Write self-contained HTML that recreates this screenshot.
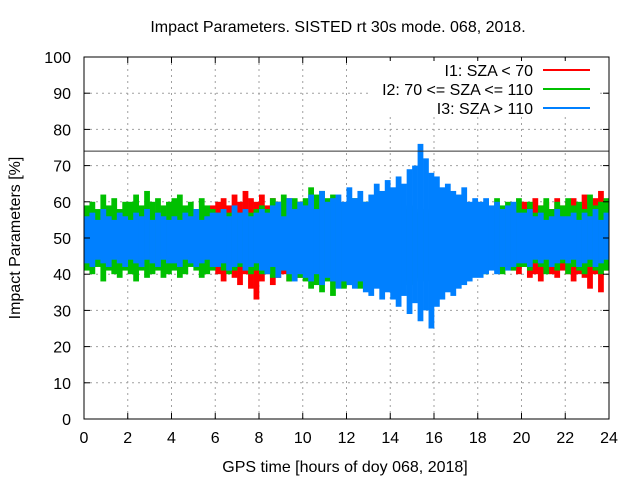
<!DOCTYPE html>
<html><head><meta charset="utf-8"><style>
body{margin:0;background:#fff}
svg{display:block;font-family:"Liberation Sans",sans-serif}
</style></head><body>
<svg id="chart" width="640" height="480" viewBox="0 0 640 480">
<rect width="640" height="480" fill="#fff"/>
<g id="grid"></g>
<g id="series"></g>
<g id="axes"></g>
<text x="338" y="32" font-size="16" text-anchor="middle">Impact Parameters. SISTED rt 30s mode. 068, 2018.</text>
<text x="345" y="472" font-size="16" text-anchor="middle">GPS time [hours of doy 068, 2018]</text>
<text transform="translate(20,238) rotate(-90)" font-size="16" text-anchor="middle">Impact Parameters [%]</text>
<g id="legend"></g>
</svg>
<script>
const xTicks=[0,2,4,6,8,10,12,14,16,18,20,22,24];
const yTicks=[0,10,20,30,40,50,60,70,80,90,100];
const refLine=74;
const binHours=0.25;
const blueHi=[56,57,55,58,56,55,57,56,55,57,56,58,55,57,56,55,56,55,57,56,58,55,56,57,57,58,56,59,57,58,56,57,58,57,59,60,56,61,58,60,59,62,58,63,60,61,62,60,64,61,63,60,62,65,63,66,64,67,65,69,70,76,72,68,67,64,65,63,62,64,60,61,60,61,59,60,58,59,60,57,57,58,56,57,55,56,58,56,56,57,55,57,56,58,55,57];
const blueLo=[43,42,44,43,42,44,43,42,44,43,42,44,43,42,44,43,43,42,44,43,42,43,44,42,42,43,41,42,43,41,42,43,41,40,42,39,41,40,38,40,39,38,40,37,39,38,36,38,37,36,38,35,34,36,33,35,33,31,34,29,32,27,30,25,31,33,35,34,36,37,38,39,39,40,41,40,42,41,42,43,43,42,44,43,44,42,43,44,43,44,42,43,44,42,43,44];
const greenHi=[59,60,58,62,59,61,58,60,60,62,59,63,60,61,59,60,61,62,59,60,58,61,59,58,57,58,57,58,57,56,57,58,59,58,61,60,62,58,61,60,61,64,62,63,61,62,60,59,60,61,59,60,58,60,59,60,59,61,58,59,58,57,58,57,58,57,58,59,57,58,59,60,59,60,58,61,59,60,58,61,58,60,57,59,61,58,60,59,61,59,60,58,62,59,60,61];
const greenLo=[41,40,42,38,41,40,39,41,40,38,41,39,40,41,39,40,41,39,40,42,41,39,40,41,42,41,40,41,42,41,40,41,40,41,39,40,41,38,40,39,38,36,37,35,38,34,37,36,37,38,36,39,37,38,40,38,40,36,38,37,38,39,38,40,40,41,40,39,41,40,41,40,41,40,42,41,40,42,41,42,42,41,43,42,40,42,41,43,40,42,41,40,42,41,40,41];
const redStartA=23;
const redHiA=[59,60,61,59,62,60,63,61,60,62,59,61,60,59,61,58,60,59,58];
const redLoA=[42,40,38,41,39,37,40,36,33,38,40,37,39,40,38,41,39,40,41];
const redStartB=78;
const redHiB=[58,59,60,58,61,59,60,58,61,59,60,61,59,62,60,61,63,60];
const redLoB=[41,40,42,39,40,38,41,40,39,41,40,38,40,39,36,40,35,41];

const NS="http://www.w3.org/2000/svg";
const X0=84,X1=609,Y0=419,Y1=57;
const xs=h=>X0+(h/24)*(X1-X0);
const ys=v=>Y0-(v/100)*(Y0-Y1);
function mk(tag,attrs,parent){const e=document.createElementNS(NS,tag);for(const k in attrs)e.setAttribute(k,attrs[k]);parent.appendChild(e);return e;}
const grid=document.getElementById('grid'),axes=document.getElementById('axes'),ser=document.getElementById('series'),leg=document.getElementById('legend');

xTicks.forEach((t,i)=>{const x=xs(t);
 if(i>0&&i<xTicks.length-1){const g=mk('line',{x1:x,x2:x,y1:Y1,y2:Y0,stroke:'#a0a0a0','stroke-dasharray':'2,4'},grid);
 
 }
 const a=mk('line',{x1:x,x2:x,y1:Y0,y2:Y0-6,stroke:'#000'},axes);
 const b=mk('line',{x1:x,x2:x,y1:Y1,y2:Y1+6,stroke:'#000'},axes);
 const l=mk('text',{x:x,y:443,'font-size':16,'text-anchor':'middle'},axes);l.textContent=t;
 
 
});
yTicks.forEach((t,i)=>{const y=ys(t);
 if(i>0&&i<yTicks.length-1){const g=mk('line',{x1:X0,x2:X1,y1:y,y2:y,stroke:'#a0a0a0','stroke-dasharray':'2,4'},grid);
 
 }
 const a=mk('line',{x1:X0,x2:X0+6,y1:y,y2:y,stroke:'#000'},axes);
 const b=mk('line',{x1:X1,x2:X1-6,y1:y,y2:y,stroke:'#000'},axes);
 const l=mk('text',{x:71,y:y+6,'font-size':16,'text-anchor':'end'},axes);l.textContent=t;
 
 
});
const frame=mk('rect',{x:X0,y:Y1,width:X1-X0,height:Y0-Y1,fill:'none',stroke:'#000'},axes);



function bars(hi,lo,start,color,name){
 for(let i=0;i<hi.length;i++){
  const h0=(start+i)*binHours;
  const x=xs(h0),w=xs(h0+binHours)-x;
  const y=ys(hi[i]),y2=ys(lo[i]);
  const r=mk('rect',{x:x,y:y,width:w+0.3,height:y2-y,fill:color},ser);
  
  
 }
}
bars(redHiA,redLoA,redStartA,'#ff0000','i1-bar');
bars(redHiB,redLoB,redStartB,'#ff0000','i1-bar');
bars(greenHi,greenLo,0,'#00c000','i2-bar');
bars(blueHi,blueLo,0,'#0080ff','i3-bar');
const rl=mk('line',{x1:X0,x2:X1,y1:ys(refLine),y2:ys(refLine),stroke:'#333','stroke-width':1},ser);



const legLabels=['I1: SZA < 70','I2: 70 <= SZA <= 110','I3: SZA > 110'];
const legColors=['#ff0000','#00c000','#0080ff'];
legLabels.forEach((s,i)=>{const y=70+i*19;
 const bg=mk('rect',{x:370,y:y-9,width:230,height:18,fill:'#fff'},leg);
 
 
 const t=mk('text',{x:533,y:y+6,'font-size':16,'text-anchor':'end'},leg);t.textContent=s;
 
 
 const l=mk('line',{x1:543,x2:590,y1:y,y2:y,stroke:legColors[i],'stroke-width':2},leg);
 
 
});
</script>
</body></html>
